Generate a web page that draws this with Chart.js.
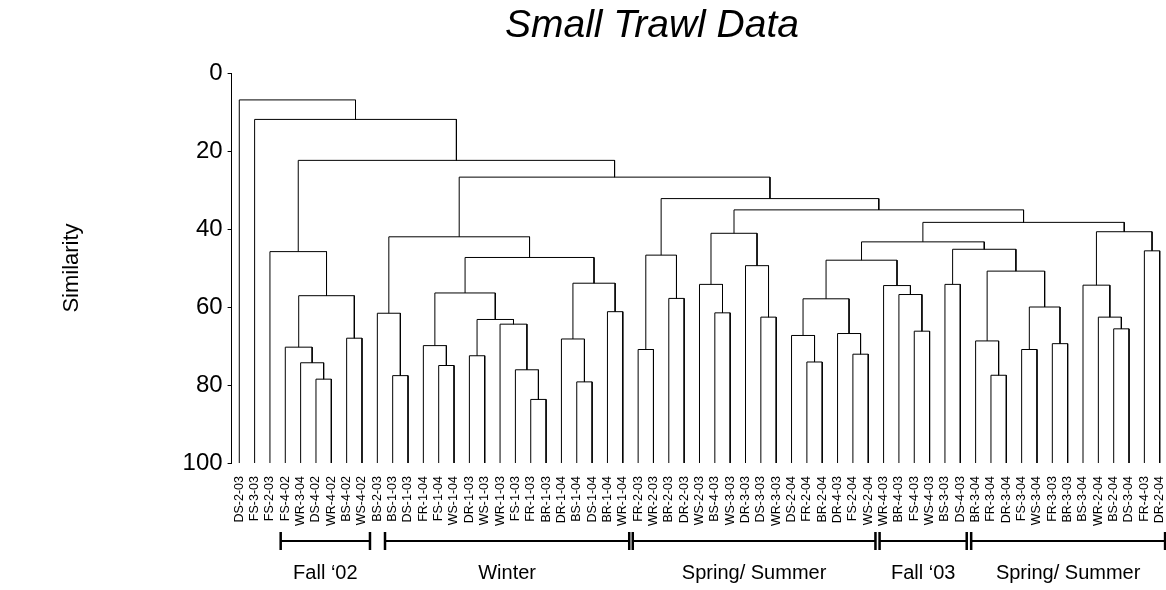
<!DOCTYPE html>
<html>
<head>
<meta charset="utf-8">
<script src="https://cdn.jsdelivr.net/npm/chart.js@4.4.0/dist/chart.umd.min.js"></script>
<style>
  html, body { margin: 0; padding: 0; background: #fff; }
</style>
</head>
<body>
<canvas id="chart" width="1166" height="590"></canvas>
<script>
const FONT = '"Liberation Sans", Arial, sans-serif';

const chartTitle = 'Small Trawl Data';
const yTitle = 'Similarity';
const yTicks = [0, 20, 40, 60, 80, 100];

// leaf order along the bottom
const leaves = [
  'DS-2-03', 'FS-3-03', 'FS-2-03', 'FS-4-02', 'WR-3-04', 'DS-4-02', 'WR-4-02', 'BS-4-02', 'WS-4-02',
  'BS-2-03', 'BS-1-03', 'DS-1-03', 'FR-1-04', 'FS-1-04', 'WS-1-04', 'DR-1-03', 'WS-1-03', 'WR-1-03',
  'FS-1-03', 'FR-1-03', 'BR-1-03', 'DR-1-04', 'BS-1-04', 'DS-1-04', 'BR-1-04', 'WR-1-04', 'FR-2-03',
  'WR-2-03', 'BR-2-03', 'DR-2-03', 'WS-2-03', 'BS-4-03', 'WS-3-03', 'DR-3-03', 'DS-3-03', 'WR-3-03',
  'DS-2-04', 'FR-2-04', 'BR-2-04', 'DR-4-03', 'FS-2-04', 'WS-2-04', 'WR-4-03', 'BR-4-03', 'FS-4-03',
  'WS-4-03', 'BS-3-03', 'DS-4-03', 'BR-3-04', 'FR-3-04', 'DR-3-04', 'FS-3-04', 'WS-3-04', 'FR-3-03',
  'BR-3-03', 'BS-3-04', 'WR-2-04', 'BS-2-04', 'DS-3-04', 'FR-4-03', 'DR-2-04'
];

// merges, bottom up: [node, left child, right child, similarity]
const merges = [
  ['n1', 'DS-4-02', 'WR-4-02', 78.5],
  ['n2', 'WR-3-04', 'n1', 74.3],
  ['n3', 'FS-4-02', 'n2', 70.3],
  ['n4', 'BS-4-02', 'WS-4-02', 68.0],
  ['n5', 'n3', 'n4', 57.1],
  ['n6', 'FS-2-03', 'n5', 45.8],
  ['n7', 'BS-1-03', 'DS-1-03', 77.6],
  ['n8', 'BS-2-03', 'n7', 61.6],
  ['n9', 'FS-1-04', 'WS-1-04', 75.0],
  ['n10', 'FR-1-04', 'n9', 69.9],
  ['n11', 'DR-1-03', 'WS-1-03', 72.5],
  ['n12', 'FR-1-03', 'BR-1-03', 83.7],
  ['n13', 'FS-1-03', 'n12', 76.1],
  ['n14', 'WR-1-03', 'n13', 64.4],
  ['n15', 'n11', 'n14', 63.2],
  ['n16', 'n10', 'n15', 56.4],
  ['n17', 'BS-1-04', 'DS-1-04', 79.2],
  ['n18', 'DR-1-04', 'n17', 68.2],
  ['n19', 'BR-1-04', 'WR-1-04', 61.2],
  ['n20', 'n18', 'n19', 53.9],
  ['n21', 'n16', 'n20', 47.3],
  ['n22', 'n8', 'n21', 42.0],
  ['n23', 'FR-2-03', 'WR-2-03', 70.9],
  ['n24', 'BR-2-03', 'DR-2-03', 57.8],
  ['n25', 'n23', 'n24', 46.7],
  ['n26', 'BS-4-03', 'WS-3-03', 61.5],
  ['n27', 'WS-2-03', 'n26', 54.2],
  ['n28', 'DS-3-03', 'WR-3-03', 62.6],
  ['n29', 'DR-3-03', 'n28', 49.4],
  ['n30', 'n27', 'n29', 41.1],
  ['n31', 'FR-2-04', 'BR-2-04', 74.1],
  ['n32', 'DS-2-04', 'n31', 67.3],
  ['n33', 'FS-2-04', 'WS-2-04', 72.1],
  ['n34', 'DR-4-03', 'n33', 66.8],
  ['n35', 'n32', 'n34', 57.9],
  ['n36', 'FS-4-03', 'WS-4-03', 66.2],
  ['n37', 'BR-4-03', 'n36', 56.8],
  ['n38', 'WR-4-03', 'n37', 54.5],
  ['n39', 'n35', 'n38', 48.0],
  ['n40', 'BS-3-03', 'DS-4-03', 54.2],
  ['n41', 'FR-3-04', 'DR-3-04', 77.5],
  ['n42', 'BR-3-04', 'n41', 68.7],
  ['n43', 'FS-3-04', 'WS-3-04', 70.9],
  ['n44', 'FR-3-03', 'BR-3-03', 69.4],
  ['n45', 'n43', 'n44', 60.0],
  ['n46', 'n42', 'n45', 50.8],
  ['n47', 'n40', 'n46', 45.2],
  ['n48', 'n39', 'n47', 43.3],
  ['n49', 'BS-2-04', 'DS-3-04', 65.6],
  ['n50', 'WR-2-04', 'n49', 62.6],
  ['n51', 'BS-3-04', 'n50', 54.4],
  ['n52', 'FR-4-03', 'DR-2-04', 45.6],
  ['n53', 'n51', 'n52', 40.7],
  ['n54', 'n48', 'n53', 38.3],
  ['n55', 'n30', 'n54', 35.1],
  ['n56', 'n25', 'n55', 32.2],
  ['n57', 'n22', 'n56', 26.7],
  ['n58', 'n6', 'n57', 22.4],
  ['n59', 'FS-3-03', 'n58', 11.9],
  ['n60', 'DS-2-03', 'n59', 6.9]
];

// season brackets under the labels, in leaf-index units
const groupNames = ['Fall \u201802', 'Winter', 'Spring/ Summer', 'Fall \u201803', 'Spring/ Summer'];
const groupStart = [2.70, 9.50, 25.65, 41.74, 47.71];
const groupEnd = [8.52, 25.42, 41.47, 47.42, 60.35];

// turn the merges into one broken polyline (null = pen up)
const pos = {};
leaves.forEach((name, i) => { pos[name] = { x: i, y: 100 }; });
const treePoints = [];
merges.forEach(([node, a, b, h]) => {
  const L = pos[a], R = pos[b];
  treePoints.push({ x: L.x, y: L.y }, { x: L.x, y: h }, { x: R.x, y: h }, { x: R.x, y: R.y }, { x: R.x, y: null });
  pos[node] = { x: (L.x + R.x) / 2, y: h };
});

const annotations = {
  id: 'annotations',
  afterDraw(chart) {
    const { ctx, chartArea } = chart;
    const xs = chart.scales.x;
    ctx.save();
    ctx.fillStyle = '#000';
    ctx.strokeStyle = '#000';
    ctx.textAlign = 'center';
    ctx.textBaseline = 'alphabetic';
    ctx.font = 'italic 39px ' + FONT;
    ctx.fillText(chartTitle, 652, 37);

    const yLine = chartArea.bottom + 78;
    ctx.font = '20px ' + FONT;
    groupNames.forEach((name, i) => {
      const x0 = xs.getPixelForValue(groupStart[i]);
      const x1 = xs.getPixelForValue(groupEnd[i]);
      ctx.lineWidth = 2;
      ctx.beginPath();
      ctx.moveTo(x0, yLine);
      ctx.lineTo(x1, yLine);
      ctx.stroke();
      ctx.lineWidth = 2.5;
      ctx.beginPath();
      ctx.moveTo(x0, yLine - 9);
      ctx.lineTo(x0, yLine + 9);
      ctx.moveTo(x1, yLine - 9);
      ctx.lineTo(x1, yLine + 9);
      ctx.stroke();
      ctx.fillText(name, (x0 + x1) / 2, yLine + 38);
    });
    ctx.restore();
  }
};

new Chart(document.getElementById('chart'), {
  type: 'scatter',
  data: {
    datasets: [{
      data: treePoints,
      showLine: true,
      spanGaps: false,
      borderColor: '#000',
      borderWidth: 1,
      pointRadius: 0,
      pointHoverRadius: 0,
      tension: 0
    }]
  },
  options: {
    responsive: false,
    animation: false,
    layout: { padding: { top: 73, left: 0, right: 0, bottom: 0 } },
    plugins: {
      legend: { display: false },
      tooltip: { enabled: false },
      title: { display: false }
    },
    scales: {
      x: {
        type: 'linear',
        min: -0.5,
        max: 60.41,
        afterBuildTicks: s => { s.ticks = leaves.map((_, i) => ({ value: i })); },
        afterFit: s => { s.height = 127; s.paddingLeft = 0; s.paddingRight = 0; },
        ticks: {
          autoSkip: false,
          minRotation: 90,
          maxRotation: 90,
          padding: 5,
          color: '#000',
          font: { family: FONT, size: 12.5 },
          callback: v => leaves[v]
        },
        grid: { display: false },
        border: { display: false }
      },
      y: {
        type: 'linear',
        reverse: true,
        min: 0,
        max: 100,
        afterBuildTicks: s => { s.ticks = yTicks.map(v => ({ value: v })); },
        afterFit: s => { s.width = 231.6; s.paddingTop = 0; s.paddingBottom = 0; },
        ticks: { color: '#000', padding: 5, font: { family: FONT, size: 24 } },
        grid: { drawOnChartArea: false, drawTicks: true, tickLength: 4, color: '#000', lineWidth: 1 },
        border: { display: true, color: '#000', width: 1 },
        title: {
          display: true,
          text: yTitle,
          color: '#000',
          font: { family: FONT, size: 22 },
          padding: { top: 59, bottom: 0 }
        }
      }
    }
  },
  plugins: [annotations]
});
</script>
</body>
</html>
